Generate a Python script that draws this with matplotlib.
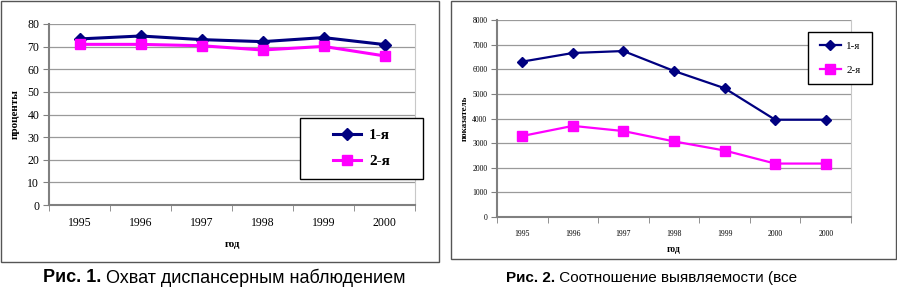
import numpy as np
import matplotlib
matplotlib.use("Agg")
import matplotlib.pyplot as plt
from matplotlib.patches import Rectangle

# --- data ---
years1 = ["1995", "1996", "1997", "1998", "1999", "2000"]
cover_1 = [73.4, 74.7, 73.1, 72.2, 74.0, 70.9]
cover_2 = [71.0, 71.0, 70.4, 68.5, 70.1, 65.9]

years2 = ["1995", "1996", "1997", "1998", "1999", "2000", "2000"]
detect_1 = [6310, 6660, 6740, 5930, 5230, 3950, 3950]
detect_2 = [3290, 3700, 3490, 3070, 2700, 2170, 2170]

series_names = ["1-я", "2-я"]
captions = ["Рис. 1.", " Охват диспансерным наблюдением",
            "Рис. 2.", " Соотношение выявляемости (все"]

NAVY = "#000080"
MAG = "#FF00FF"
SERIF = "Liberation Serif"

W, H = 897, 287
fig = plt.figure(figsize=(W / 100, H / 100), dpi=100)


def px_axes(x0, y0, x1, y1):
    return fig.add_axes([x0 / W, (H - y1) / H, (x1 - x0) / W, (y1 - y0) / H])


def frame(x0, y0, x1, y1):
    fig.patches.append(Rectangle((x0 / W, (H - y1) / H), (x1 - x0) / W, (y1 - y0) / H,
                                 transform=fig.transFigure, fill=False,
                                 edgecolor="#555555", lw=1.0))


def style_axes(ax, labels, ymax, ystep, tick_fs):
    n = len(labels)
    ax.set_xlim(-0.5, n - 0.5)
    ax.set_ylim(0, ymax)
    ax.set_yticks(np.arange(0, ymax + 1, ystep))
    ax.set_xticks(range(n))
    ax.set_xticklabels(labels)
    ax.set_xticks(np.arange(-0.5, n, 1.0), minor=True)
    ax.tick_params(axis="x", which="major", length=0, pad=9, labelsize=tick_fs)
    ax.tick_params(axis="x", which="minor", length=4, direction="out", color="#808080")
    ax.tick_params(axis="y", length=4, direction="out", color="#808080", labelsize=tick_fs, pad=3)
    for lab in ax.get_xticklabels() + ax.get_yticklabels():
        lab.set_family(SERIF)
    ax.grid(axis="y", color="#9a9a9a", lw=0.9)
    ax.set_axisbelow(True)
    ax.spines["top"].set_visible(False)
    ax.spines["right"].set_color("#c8c8c8")
    ax.spines["left"].set_color("#808080")
    ax.spines["bottom"].set_color("#808080")
    ax.spines["left"].set_linewidth(1.5)
    ax.spines["bottom"].set_linewidth(1.5)


def legend_box(ax, x0, y0, x1, y1, fs, weight, spacing, hlen):
    ax.add_patch(Rectangle((x0, y0), x1 - x0, y1 - y0, transform=ax.transAxes,
                           fill=True, facecolor="white", edgecolor="black", lw=1.0,
                           clip_on=False, zorder=5))
    leg = ax.legend(loc="center", bbox_to_anchor=((x0 + x1) / 2, (y0 + y1) / 2),
                    frameon=False, prop={"family": SERIF, "size": fs, "weight": weight},
                    labelspacing=spacing, handlelength=hlen, handletextpad=0.5,
                    borderpad=0)
    leg.set_zorder(6)


# --- figure 1 ---
frame(1, 1, 439, 262)
ax1 = px_axes(49, 24, 415, 205)
x1 = np.arange(len(years1))
ax1.plot(x1, cover_1, color=NAVY, lw=2.2, marker="D", ms=6, label=series_names[0])
ax1.plot(x1, cover_2, color=MAG, lw=2.2, marker="s", ms=7, label=series_names[1])
style_axes(ax1, years1, 80, 10, 8.5)
ax1.set_ylabel("проценты", family=SERIF, weight="bold", fontsize=8)
ax1.yaxis.set_label_coords(-0.079, 0.5)
ax1.set_xlabel("год", family=SERIF, weight="bold", fontsize=8)
ax1.xaxis.set_label_coords(0.5, -0.193)
legend_box(ax1, 0.686, 0.144, 1.022, 0.481, 11, "bold", 0.83, 1.85)

# --- figure 2 ---
frame(451, 1, 896, 259)
ax2 = px_axes(497, 20, 851, 217)
x2 = np.arange(len(years2))
ax2.plot(x2, detect_1, color=NAVY, lw=1.6, marker="D", ms=5, label=series_names[0])
ax2.plot(x2, detect_2, color=MAG, lw=1.6, marker="s", ms=7, label=series_names[1])
style_axes(ax2, years2, 8000, 1000, 5.5)
ax2.set_ylabel("показатель", family=SERIF, weight="bold", fontsize=6.5)
ax2.yaxis.set_label_coords(-0.08, 0.5)
ax2.set_xlabel("год", family=SERIF, weight="bold", fontsize=7)
ax2.xaxis.set_label_coords(0.5, -0.142)
legend_box(ax2, 0.879, 0.675, 1.059, 0.939, 8, "normal", 1.25, 1.9)

# --- captions (first one is justified wider in the source) ---
cy = (H - 278) / H
for i, (xs, fs) in enumerate([(43, 13), (506, 11)]):
    t = fig.text(xs / W, cy, captions[2 * i], family="Liberation Sans", weight="bold",
                 fontsize=fs, va="center", ha="left")
    fig.canvas.draw()
    bb = t.get_window_extent()
    fig.text(bb.x1 / W, cy, captions[2 * i + 1], family="Liberation Sans",
             fontsize=fs, va="center", ha="left")

fig.savefig("out.png", dpi=100)
